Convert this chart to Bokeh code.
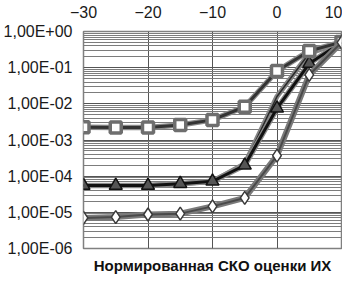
from bokeh.plotting import figure
from bokeh.models import Range1d, FixedTicker, CustomJSTickFormatter, Title, ColumnDataSource
from bokeh.embed import file_html
from bokeh.resources import INLINE

# ---- data ----
snr = [-30, -25, -20, -15, -10, -5, 0, 5, 10]
sq_vals = [2.26e-3, 2.2e-3, 2.2e-3, 2.6e-3, 3.6e-3, 8.3e-3, 8.1e-2, 0.29, 0.51]
tri_vals = [5.5e-5, 5.5e-5, 5.5e-5, 6.2e-5, 7.2e-5, 2.0e-4, 7.5e-3, 0.13, 0.5]
tri2_vals = [5.5e-5, 5.5e-5, 5.5e-5, 6.2e-5, 7.2e-5, 2.2e-4, 1.6e-2, 0.25, 0.5]
dia_vals = [7.0e-6, 7.4e-6, 8.7e-6, 9.2e-6, 1.46e-5, 2.5e-5, 3.7e-4, 6.3e-2, 0.5]

x_ticks = [-30, -20, -10, 0, 10]
y_ticks = [1e-6, 1e-5, 1e-4, 1e-3, 1e-2, 1e-1, 1e0]
y_tick_labels = ["1,00E-06", "1,00E-05", "1,00E-04", "1,00E-03", "1,00E-02", "1,00E-01", "1,00E+00"]
x_title = "Нормированная СКО оценки ИХ"

FONT = "Liberation Sans"

p = figure(width=342, height=280, y_axis_type="log", x_axis_location="above",
           output_backend="svg", toolbar_location=None,
           x_range=Range1d(-30, 10), y_range=Range1d(1e-6, 1e0),
           min_border_left=82, min_border_right=1, min_border_top=31, min_border_bottom=29)

minor = [k * d for d in y_ticks[:-1] for k in range(2, 10)]
yt = FixedTicker(ticks=y_ticks, minor_ticks=minor)
xt = FixedTicker(ticks=x_ticks)
p.yaxis.ticker = yt
p.xaxis.ticker = xt
p.ygrid.ticker = yt
p.xgrid.ticker = xt
p.yaxis.formatter = CustomJSTickFormatter(args=dict(vals=y_ticks, labs=y_tick_labels), code="""
let best = 0;
const lt = Math.log10(tick);
for (let i = 0; i < vals.length; i++) {
  if (Math.abs(Math.log10(vals[i]) - lt) < Math.abs(Math.log10(vals[best]) - lt)) best = i;
}
return labs[best];
""")

for ax in (p.xaxis, p.yaxis):
    ax.axis_line_color = None
    ax.major_tick_line_color = None
    ax.minor_tick_line_color = None
    ax.major_tick_out = 0
    ax.major_tick_in = 0
    ax.minor_tick_out = 0
    ax.major_label_text_font = FONT
    ax.major_label_text_font_size = "16px"
    ax.major_label_text_color = "#1a1a1a"
p.yaxis.major_label_standoff = 11
p.xaxis.major_label_standoff = 14

p.ygrid.grid_line_color = "#555555"
p.ygrid.minor_grid_line_color = "#7c7c7c"
p.ygrid.minor_grid_line_width = 1
p.xgrid.grid_line_color = "#555555"
p.outline_line_color = "#808080"
p.outline_line_width = 1.5
p.background_fill_color = "white"
p.border_fill_color = "white"

src = ColumnDataSource(dict(x=snr, sq=sq_vals, tri=tri_vals, tri2=tri2_vals, dia=dia_vals))

# triangle series
p.line("x", "tri2", source=src, line_color="#858585", line_width=5)
p.line("x", "tri2", source=src, line_color="#2a2a2a", line_width=1.5)
p.line("x", "tri", source=src, line_color="#8a8a8a", line_width=5.5)
p.line("x", "tri", source=src, line_color="#111111", line_width=3)
p.scatter("x", "tri", source=src, marker="triangle", size=13,
          fill_color="#555555", line_color="#111111", line_width=1.5)

# square series
p.line("x", "sq", source=src, line_color="#8a8a8a", line_width=5.5)
p.line("x", "sq", source=src, line_color="#333333", line_width=3)
p.scatter("x", "sq", source=src, marker="square", size=11,
          fill_color="white", line_color="#6e6e6e", line_width=3.5)

# diamond series
p.line("x", "dia", source=src, line_color="#7a7a7a", line_width=6)
p.line("x", "dia", source=src, line_color="#4a4a4a", line_width=2)
p.scatter("x", "dia", source=src, marker="diamond", size=13,
          fill_color="white", line_color="#3a3a3a", line_width=1.5)

p.add_layout(Title(text=x_title, text_font=FONT, text_font_size="15px",
                   text_font_style="bold", align="center", text_color="#111111",
                   standoff=13), "below")

open("out.html", "w").write(file_html(p, INLINE))
